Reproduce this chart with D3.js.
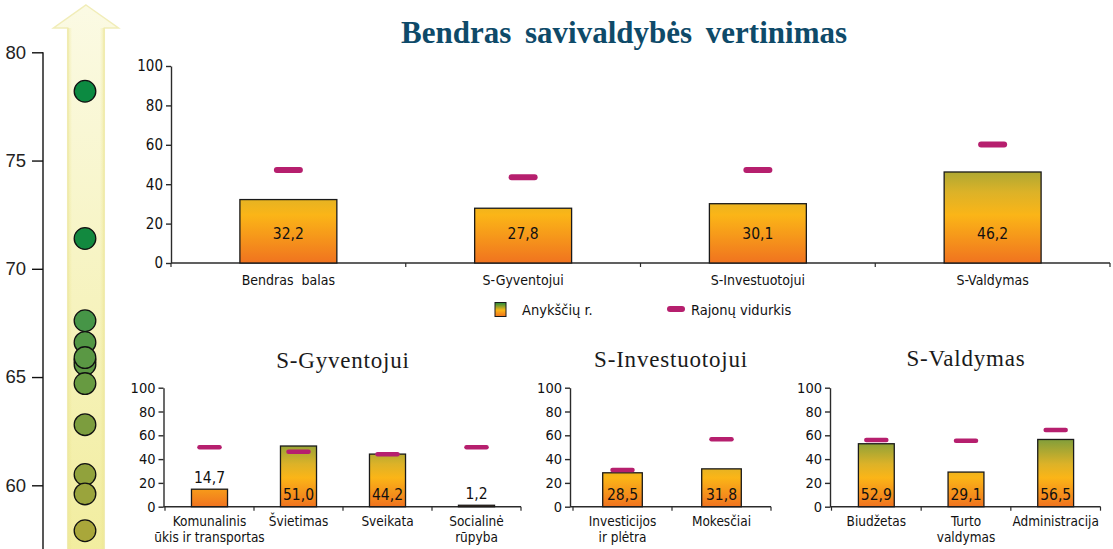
<!DOCTYPE html>
<html>
<head>
<meta charset="utf-8">
<script src="https://cdn.jsdelivr.net/npm/d3@7"></script>
<style>
  body { margin: 0; background: #fff; }
  svg { display: block; }
</style>
</head>
<body>
<svg id="chart" width="1113" height="549"></svg>
<script>
// ---- Municipality index scale (left strip) ----
const indexTicks = [60, 65, 70, 75, 80];
const municipalityScores = [78.2, 71.4, 65.75, 65.58, 67.6, 66.6, 65.9, 64.7, 62.8, 60.5, 59.6, 57.9];

// ---- Overall evaluation ----
const overallCategories = ["Bendras  balas", "S-Gyventojui", "S-Investuotojui", "S-Valdymas"];
const overallValues = [32.2, 27.8, 30.1, 46.2];
const overallAverages = [47.2, 43.5, 47.2, 60.2];

// ---- S-Gyventojui ----
const residentCategories = [["Komunalinis", "ūkis ir transportas"], ["Švietimas"], ["Sveikata"], ["Socialinė", "rūpyba"]];
const residentValues = [14.7, 51.0, 44.2, 1.2];
const residentAverages = [49.9, 46.2, 44.0, 49.9];

// ---- S-Investuotojui ----
const investorCategories = [["Investicijos", "ir plėtra"], ["Mokesčiai"]];
const investorValues = [28.5, 31.8];
const investorAverages = [30.8, 56.6];

// ---- S-Valdymas ----
const governanceCategories = [["Biudžetas"], ["Turto", "valdymas"], ["Administracija"]];
const governanceValues = [52.9, 29.1, 56.5];
const governanceAverages = [56.0, 55.5, 64.5];

const scoreTicks = [0, 20, 40, 60, 80, 100];
const legendLabels = ["Anykščių r.", "Rajonų vidurkis"];

const COND = "'Liberation Sans Narrow', 'DejaVu Sans Condensed', 'Arial Narrow', sans-serif";
const SERIF = "'Liberation Serif', 'Times New Roman', serif";
const AVG_COLOR = "#b61f6e";
const AXIS_COLOR = "#2b2b2b";
const lt = d3.formatLocale({ decimal: ",", thousands: " ", grouping: [3], currency: ["", ""] });
const fmt = lt.format(".1f");

const svg = d3.select("#chart");
const defs = svg.append("defs");

// Orange → yellow → green fill, tied to the score scale of each chart
function scoreGradient(id, yScale) {
  const g = defs.append("linearGradient")
    .attr("id", id)
    .attr("gradientUnits", "userSpaceOnUse")
    .attr("x1", 0).attr("x2", 0)
    .attr("y1", yScale(0)).attr("y2", yScale(58));
  [[0, "#f0731f"], [0.42, "#fbb517"], [0.62, "#dcb228"], [1, "#7b9d3c"]]
    .forEach(([o, c]) => g.append("stop").attr("offset", o).attr("stop-color", c));
}

// ---- Left strip: arrow with municipality dots ----
(function drawIndexStrip() {
  const y = d3.scaleLinear().domain([57, 80]).range([52.3 + 23 * 21.65, 52.3]);

  const ag = defs.append("linearGradient").attr("id", "arrowFill")
    .attr("x1", 0).attr("x2", 0).attr("y1", 0).attr("y2", 1);
  ag.append("stop").attr("offset", 0).attr("stop-color", "#fbfae4");
  ag.append("stop").attr("offset", 1).attr("stop-color", "#f2ed9f");
  const sg = defs.append("linearGradient").attr("id", "shaftShade")
    .attr("x1", 0).attr("x2", 1).attr("y1", 0).attr("y2", 0);
  sg.append("stop").attr("offset", 0).attr("stop-color", "#ebe48c").attr("stop-opacity", 0.55);
  sg.append("stop").attr("offset", 0.12).attr("stop-color", "#ebe48c").attr("stop-opacity", 0);
  sg.append("stop").attr("offset", 0.88).attr("stop-color", "#ebe48c").attr("stop-opacity", 0);
  sg.append("stop").attr("offset", 1).attr("stop-color", "#ebe48c").attr("stop-opacity", 0.55);

  const cx = 86, tipY = 5, headY = 28, headHalf = 32.5, shaftHalf = 18.3, bottom = 552;
  const arrow = [[cx, tipY], [cx + headHalf, headY], [cx + shaftHalf, headY], [cx + shaftHalf, bottom],
                 [cx - shaftHalf, bottom], [cx - shaftHalf, headY], [cx - headHalf, headY]];
  svg.append("path").attr("d", d3.line()(arrow) + "Z")
    .attr("fill", "url(#arrowFill)").attr("stroke", "#f1edb8").attr("stroke-width", 1.5);
  svg.append("rect").attr("x", cx - shaftHalf).attr("y", headY).attr("width", shaftHalf * 2)
    .attr("height", bottom - headY).attr("fill", "url(#shaftShade)");

  const axis = svg.append("g").attr("transform", "translate(43,0)")
    .call(d3.axisLeft(y).tickValues(indexTicks).tickSize(11).tickSizeOuter(0).tickPadding(6));
  axis.select(".domain").attr("d", `M0,${y(80)}V${y(57)}`).attr("stroke", "#111").attr("stroke-width", 1.4);
  axis.selectAll(".tick line").attr("stroke", "#111").attr("stroke-width", 1.4);
  axis.selectAll(".tick text").attr("font-family", "'Liberation Sans', Arial, sans-serif")
    .attr("font-size", 18.5).attr("fill", "#222");

  const color = d3.scaleLinear().domain([57.5, 63, 67.5, 71, 80])
    .range(["#ada83a", "#7a9d3e", "#489547", "#12893f", "#0a8a41"]);
  svg.append("g").selectAll("circle").data(municipalityScores).join("circle")
    .attr("cx", 85).attr("cy", d => y(d)).attr("r", 10.8)
    .attr("fill", d => color(d)).attr("stroke", "#111").attr("stroke-width", 1.3);
})();

// ---- Generic bar chart with district averages ----
function barChart(o) {
  const g = svg.append("g");
  const y = d3.scaleLinear().domain([0, 100]).range([o.y0, o.y100]);
  const x = d3.scaleBand().domain(d3.range(o.values.length)).range([o.x0, o.x1])
    .paddingInner(o.pad).paddingOuter(o.pad / 2);
  const gid = o.id + "Grad";
  scoreGradient(gid, y);

  // y axis
  const ya = g.append("g").attr("transform", `translate(${o.axisX},0)`)
    .call(d3.axisLeft(y).tickValues(scoreTicks).tickSize(5).tickSizeOuter(0).tickPadding(3));
  ya.select(".domain").attr("stroke", AXIS_COLOR).attr("stroke-width", 1.4);
  ya.selectAll(".tick line").attr("stroke", AXIS_COLOR).attr("stroke-width", 1.4);
  ya.selectAll(".tick text").attr("font-family", COND).attr("font-size", o.tickFont).attr("fill", "#111");

  // baseline with category separators
  g.append("line").attr("x1", o.axisX).attr("x2", o.x1).attr("y1", o.y0).attr("y2", o.y0)
    .attr("stroke", AXIS_COLOR).attr("stroke-width", 1.4);
  const step = x.step();
  g.append("g").selectAll("line").data(d3.range(o.values.length + 1)).join("line")
    .attr("x1", i => o.x0 + i * step).attr("x2", i => o.x0 + i * step)
    .attr("y1", o.y0).attr("y2", o.y0 + 4)
    .attr("stroke", AXIS_COLOR).attr("stroke-width", 1.2);

  // bars
  g.append("g").selectAll("rect").data(o.values).join("rect")
    .attr("x", (d, i) => x(i)).attr("width", x.bandwidth())
    .attr("y", d => y(d)).attr("height", d => y(0) - y(d))
    .attr("fill", `url(#${gid})`).attr("stroke", "#1a1a1a").attr("stroke-width", 1.3);

  // district averages
  g.append("g").selectAll("line").data(o.averages).join("line")
    .attr("x1", (d, i) => x(i) + x.bandwidth() / 2 - o.avgHalf)
    .attr("x2", (d, i) => x(i) + x.bandwidth() / 2 + o.avgHalf)
    .attr("y1", d => y(d)).attr("y2", d => y(d))
    .attr("stroke", AVG_COLOR).attr("stroke-width", o.avgWidth).attr("stroke-linecap", "round");

  // value labels
  g.append("g").selectAll("text").data(o.values).join("text")
    .attr("x", (d, i) => x(i) + x.bandwidth() / 2)
    .attr("y", d => d < 20 ? y(d) - o.aboveGap : o.y0 - o.insideOffset)
    .attr("text-anchor", "middle").attr("dominant-baseline", "central")
    .attr("font-family", COND).attr("font-size", o.valueFont).attr("fill", "#111")
    .text(d => fmt(d));

  // category labels
  const cl = g.append("g").selectAll("text").data(o.categories).join("text")
    .attr("x", (d, i) => x(i) + x.bandwidth() / 2)
    .attr("y", o.labelY)
    .attr("text-anchor", "middle").attr("dominant-baseline", "central")
    .attr("font-family", COND).attr("font-size", o.catFont).attr("fill", "#111")
    .style("white-space", "pre");
  cl.each(function (d) {
    const lines = Array.isArray(d) ? d : [d];
    const t = d3.select(this);
    lines.forEach((line, k) => t.append("tspan")
      .attr("x", t.attr("x")).attr("dy", k === 0 ? 0 : o.lineGap).text(line));
  });

  if (o.title) {
    g.append("text").attr("x", o.title.x).attr("y", o.title.y).attr("text-anchor", "middle")
      .attr("font-family", SERIF).attr("font-size", 23).attr("letter-spacing", 0.8)
      .attr("fill", "#1a1a1a").text(o.title.text);
  }
}

// Main title
svg.append("text").attr("x", 624).attr("y", 43).attr("text-anchor", "middle")
  .attr("font-family", SERIF).attr("font-weight", "bold").attr("font-size", 31)
  .attr("word-spacing", 6).attr("fill", "#0e4a69")
  .text("Bendras savivaldybės vertinimas");

barChart({
  id: "overall", categories: overallCategories, values: overallValues, averages: overallAverages,
  axisX: 171, x0: 171, x1: 1110, y0: 263, y100: 66, pad: 0.587,
  tickFont: 15, valueFont: 15.5, catFont: 14, labelY: 280, lineGap: 15,
  insideOffset: 29, aboveGap: 12, avgHalf: 11.5, avgWidth: 6
});

const lowerCommon = {
  y0: 506.7, y100: 387.7, tickFont: 14.5, valueFont: 15.5, catFont: 13.5, labelY: 520.5, lineGap: 16,
  insideOffset: 12, aboveGap: 11, avgHalf: 10, avgWidth: 4.5
};

barChart(Object.assign({}, lowerCommon, {
  id: "resident", categories: residentCategories, values: residentValues, averages: residentAverages,
  axisX: 163.5, x0: 165, x1: 521, pad: 0.595,
  title: { text: "S-Gyventojui", x: 343, y: 368 }
}));

barChart(Object.assign({}, lowerCommon, {
  id: "investor", categories: investorCategories, values: investorValues, averages: investorAverages,
  axisX: 570, x0: 573, x1: 771, pad: 0.6,
  title: { text: "S-Investuotojui", x: 671, y: 367 }
}));

barChart(Object.assign({}, lowerCommon, {
  id: "governance", categories: governanceCategories, values: governanceValues, averages: governanceAverages,
  axisX: 830, x0: 831.5, x1: 1100.5, pad: 0.6,
  title: { text: "S-Valdymas", x: 966, y: 366 }
}));

// ---- Legend ----
(function drawLegend() {
  const lg = defs.append("linearGradient").attr("id", "legendGrad")
    .attr("x1", 0).attr("x2", 0).attr("y1", 1).attr("y2", 0);
  [[0, "#f0731f"], [0.45, "#fbb517"], [1, "#1f8a3c"]]
    .forEach(([o, c]) => lg.append("stop").attr("offset", o).attr("stop-color", c));
  const g = svg.append("g");
  g.append("rect").attr("x", 495).attr("y", 302.5).attr("width", 11).attr("height", 14)
    .attr("fill", "url(#legendGrad)").attr("stroke", "#1a1a1a").attr("stroke-width", 1);
  g.append("line").attr("x1", 670).attr("x2", 682).attr("y1", 309).attr("y2", 309)
    .attr("stroke", AVG_COLOR).attr("stroke-width", 6).attr("stroke-linecap", "round");
  g.selectAll("text").data(legendLabels).join("text")
    .attr("x", (d, i) => i === 0 ? 522 : 691).attr("y", 309.5)
    .attr("dominant-baseline", "central")
    .attr("font-family", COND).attr("font-size", 14.5).attr("fill", "#111")
    .text(d => d);
})();
</script>
</body>
</html>
